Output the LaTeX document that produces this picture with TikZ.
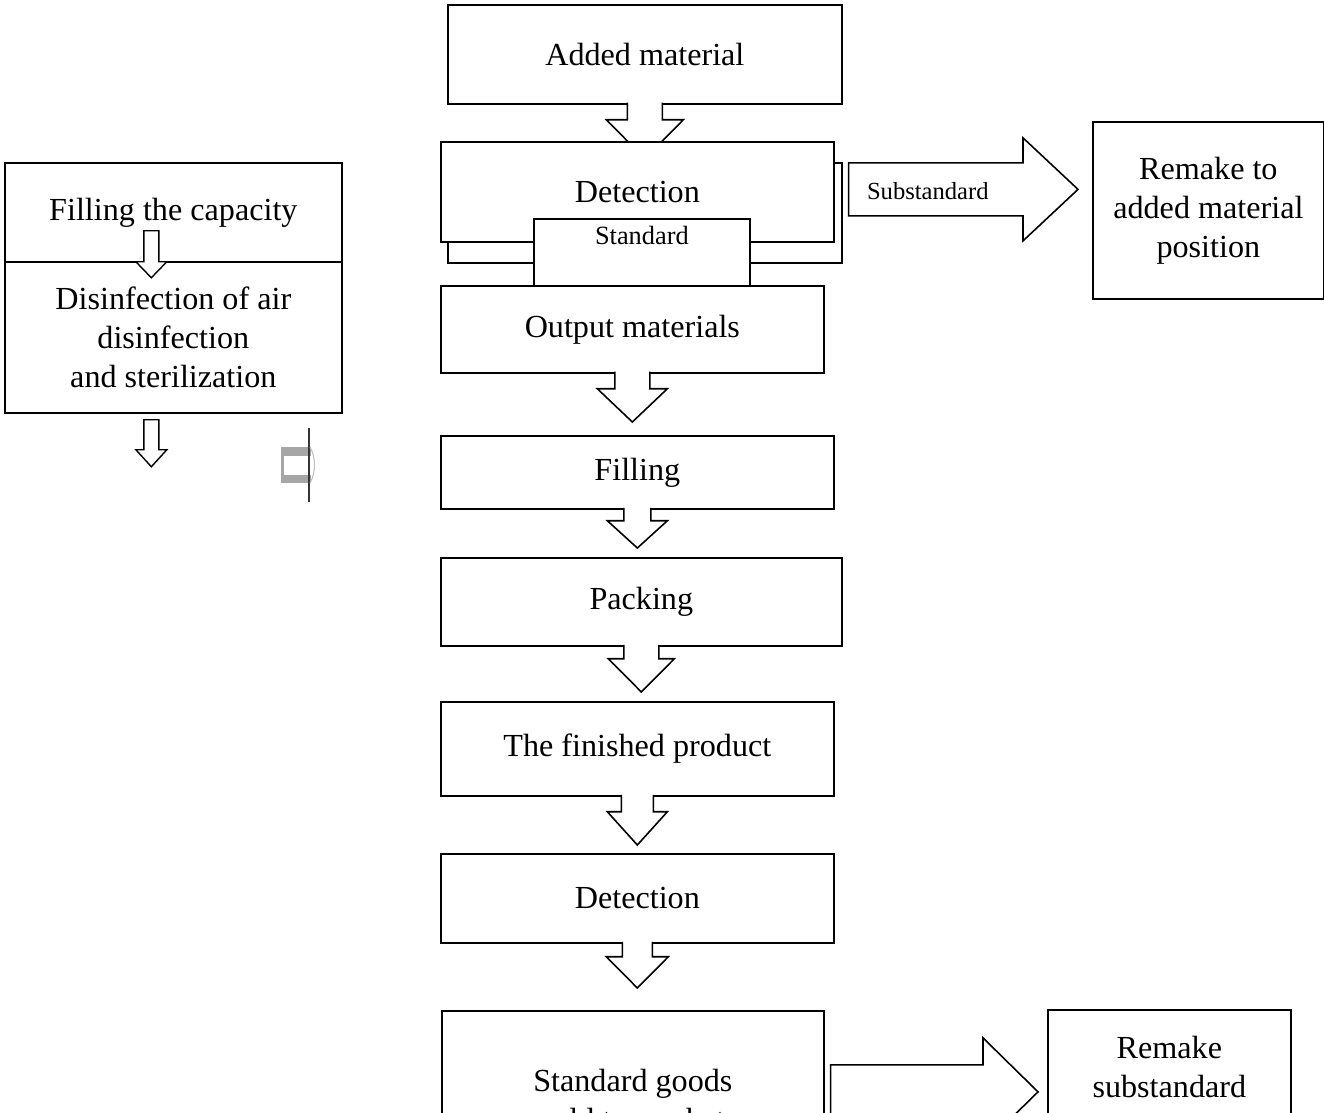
\documentclass[tikz,border=0pt]{standalone}
\usepackage{fontspec}
\setmainfont{Liberation Serif}
\usetikzlibrary{calc}
\newcommand{\bx}{\fontsize{18.3}{22.2}\selectfont}
\newcommand{\midfnt}{\fontsize{15}{18}\selectfont}
\newcommand{\smallfnt}{\fontsize{14}{17}\selectfont}

\begin{document}
\begin{tikzpicture}[x=0.02cm, y=-0.02cm,
  basic/.style     = {draw, fill=white, line width=1pt, inner sep=0pt, anchor=north west, align=center, font=\bx},
  tag/.style       = {inner sep=0pt, font=\smallfnt},
  blockarrow/.style= {draw, fill=white, line width=0.9pt}]
\useasboundingbox (0,0) rectangle (1324,1112);

% top of the main line
\node[basic, minimum width=7.88cm, minimum height=1.98cm] (added) at (447,4) {Added material};

% this arrow runs under the detection boxes
\filldraw[blockarrow] ($(added.south)+(-17.5,-2)$) -- ($(added.south)+(-17.5,15)$) -- ($(added.south)+(-38.5,15)$)
  -- ($(added.south)+(0,54)$) -- ($(added.south)+(38.5,15)$) -- ($(added.south)+(17.5,15)$) -- ($(added.south)+(17.5,-2)$);

\node[basic, minimum width=7.88cm, minimum height=2cm] (detectback) at (447,162) {};
\node[basic, minimum width=7.86cm, minimum height=2cm] (detect) at (440,141) {Detection};
\node[basic, font=\midfnt, minimum width=4.32cm, text height=0.52cm, text depth=0.82cm] (standard) at (533,218) {Standard};

% rest of the main line
\node[basic, minimum width=7.66cm, minimum height=1.74cm] (output) at (440,285) {Output materials};
\node[basic, minimum width=7.86cm, minimum height=1.46cm] (filling) at (440,435) {Filling};
\node[basic, minimum width=8.02cm, minimum height=1.76cm] (packing) at (440,557) {Packing};
\node[basic, minimum width=7.86cm, minimum height=1.88cm] (finished) at (440,701) {The finished product};
\node[basic, minimum width=7.86cm, minimum height=1.78cm] (check) at (440,853) {Detection};
\node[basic, minimum width=7.64cm, minimum height=3.58cm] (goods) at (441,1010) {Standard goods\\sold to market};

% side boxes
\node[basic, minimum width=4.62cm, minimum height=3.54cm] (remakeA) at (1092,121) {Remake to\\added material\\position};
\node[basic, minimum width=4.86cm, minimum height=2.3cm] (remakeB) at (1047,1009) {Remake\\substandard};
\node[basic, minimum width=6.74cm, minimum height=1.98cm] (fillcap) at (4,162) {Filling the capacity};
\node[basic, minimum width=6.74cm, minimum height=3.02cm] (disinf) at (4,261) {Disinfection of air\\disinfection\\and sterilization};

% down arrows between the stages
\foreach \src/\dst/\sw/\hw/\sl/\tip in {output/filling/17.5/35/15/-13, filling/packing/13.5/30/11/-9,
    packing/finished/17.5/33/12/-9, finished/check/16/30/15/-8, check/goods/15/31/13/-22}
  \filldraw[blockarrow] ($(\src.south)+(-\sw,-2)$) -- ($(\src.south)+(-\sw,\sl)$) -- ($(\src.south)+(-\hw,\sl)$)
    -- ($(\src.south |- \dst.north)+(0,\tip)$)
    -- ($(\src.south)+(\hw,\sl)$) -- ($(\src.south)+(\sw,\sl)$) -- ($(\src.south)+(\sw,-2)$);

% arrows to the remake boxes
\foreach \src/\dst/\dx/\dy/\gap/\sh/\hh in {detect/remakeA/14/-2.5/14/26.5/51.5, goods/remakeB/6/-8.5/9/27/54}
{
  \coordinate (s) at ($(\src.east)+(\dx,\dy)$);
  \coordinate (t) at ($(\dst.west |- s)+(-\gap,0)$);
  \filldraw[blockarrow] ($(s)+(0,-\sh)$) -- ($(t)+(-55,-\sh)$) -- ($(t)+(-55,-\hh)$) -- (t)
    -- ($(t)+(-55,\hh)$) -- ($(t)+(-55,\sh)$) -- ($(s)+(0,\sh)$) -- cycle;
}
\node[tag, anchor=west] (subs) at ($(detect.east)+(32,-1)$) {Substandard};

% small arrows on the left
\foreach \src/\top/\base/\tip in {fillcap/-32/-1/15, disinf/6/36/53}
  \filldraw[blockarrow, line width=0.8pt] ($(\src.south)+(-29.5,\top)$) -- ($(\src.south)+(-29.5,\base)$) -- ($(\src.south)+(-37.5,\base)$)
    -- ($(\src.south)+(-22,\tip)$) -- ($(\src.south)+(-6.5,\base)$) -- ($(\src.south)+(-14.5,\base)$) -- ($(\src.south)+(-14.5,\top)$) -- cycle;

% broken piece of an arrow
\fill[gray!70] (281,447) rectangle (311,483);
\fill[white] (284,456) rectangle (311,475);
\draw[black!80, line width=0.6pt] (309,428) -- (309,502);
\draw[gray!50, line width=0.6pt] (310,447) .. controls (316,458) and (316,472) .. (310,483);

\end{tikzpicture}
\end{document}
